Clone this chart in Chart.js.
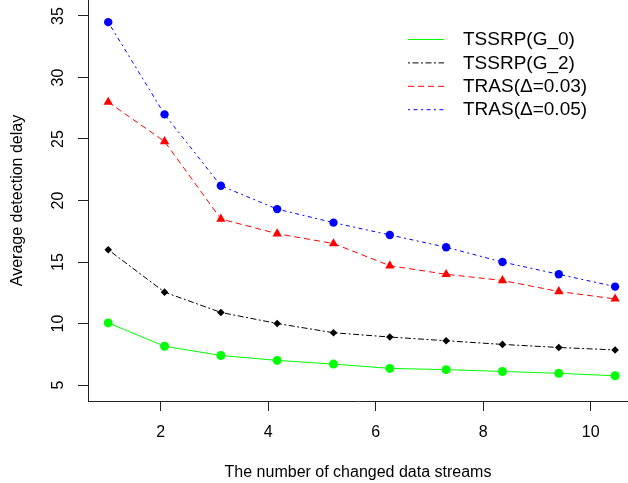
<!DOCTYPE html>
<html>
<head>
<meta charset="utf-8">
<script src="https://cdn.jsdelivr.net/npm/chart.js@4"></script>
<style>
  html, body { margin: 0; padding: 0; background: #fff; overflow: hidden; }
  #wrap { width: 628px; height: 483px; }
</style>
</head>
<body>
<div id="wrap"><canvas id="delayChart" width="628" height="483"></canvas></div>
<script>
// x: number of changed data streams
const streams = [1, 2, 3, 4, 5, 6, 7, 8, 9, 10];

// average detection delay per method
const tssrpG0 = [10.05, 8.15, 7.4, 7.0, 6.7, 6.35, 6.25, 6.1, 5.95, 5.75];
const tssrpG2 = [16.0, 12.55, 10.9, 10.0, 9.25, 8.9, 8.6, 8.3, 8.05, 7.85];
const tras003 = [28.0, 24.8, 18.5, 17.3, 16.5, 14.7, 14.0, 13.5, 12.6, 12.0];
const tras005 = [34.5, 27.0, 21.2, 19.3, 18.2, 17.2, 16.2, 15.0, 14.0, 13.0];

const seriesLabels = ["TSSRP(G_0)", "TSSRP(G_2)", "TRAS(\u0394=0.03)", "TRAS(\u0394=0.05)"];

const xTitle = "The number of changed data streams";
const yTitle = "Average detection delay";

const pts = (ys) => streams.map((x, i) => ({ x: x, y: ys[i] }));

// legend drawn inside the plot, top right, lines only (like R's legend())
const innerLegend = {
  id: "innerLegend",
  afterDraw(chart) {
    const ctx = chart.ctx;
    const x0 = 408, x1 = 444, tx = 463;
    let y = 39;
    ctx.save();
    chart.data.datasets.forEach((ds) => {
      ctx.beginPath();
      ctx.setLineDash(ds.borderDash || []);
      ctx.strokeStyle = ds.borderColor;
      ctx.lineWidth = 1;
      ctx.moveTo(x0, y + 0.5);
      ctx.lineTo(x1, y + 0.5);
      ctx.stroke();
      ctx.setLineDash([]);
      ctx.fillStyle = "#000";
      ctx.font = "19px 'Liberation Sans', Arial, sans-serif";
      ctx.textBaseline = "middle";
      ctx.textAlign = "left";
      ctx.fillText(ds.label, tx, y + 1);
      y += 23.4;
    });
    ctx.restore();
  }
};

Chart.defaults.font.family = "'Liberation Sans', Arial, sans-serif";
Chart.defaults.color = "#000";

const common = { xAxisID: "x", yAxisID: "y", borderWidth: 1, pointBorderWidth: 0 };

new Chart(document.getElementById("delayChart"), {
  type: "line",
  data: {
    datasets: [
      {
        ...common,
        label: seriesLabels[0],
        data: pts(tssrpG0),
        borderColor: "#00ff00",
        backgroundColor: "#00ff00",
        pointStyle: "circle",
        pointRadius: 4.5
      },
      {
        ...common,
        label: seriesLabels[1],
        data: pts(tssrpG2),
        borderColor: "#000000",
        backgroundColor: "#000000",
        borderDash: [2, 2.5, 6, 2.5],
        pointStyle: "rectRot",
        pointRadius: 3.8
      },
      {
        ...common,
        label: seriesLabels[2],
        data: pts(tras003),
        borderColor: "#ff0000",
        backgroundColor: "#ff0000",
        borderDash: [6, 4],
        pointStyle: "triangle",
        pointRadius: 5.4
      },
      {
        ...common,
        label: seriesLabels[3],
        data: pts(tras005),
        borderColor: "#0000ff",
        backgroundColor: "#0000ff",
        borderDash: [2, 3.5, 4, 3.5],
        pointStyle: "circle",
        pointRadius: 4.2
      }
    ]
  },
  options: {
    responsive: false,
    animation: false,
    clip: false,
    layout: { padding: 0, autoPadding: false },
    elements: { line: { tension: 0 } },
    plugins: {
      legend: { display: false },
      tooltip: { enabled: false }
    },
    scales: {
      // scale the points are placed on
      x: {
        type: "linear",
        position: "bottom",
        display: false,
        min: 0.641,
        max: 10.229
      },
      // visible axis with its own tick positions
      x2: {
        type: "linear",
        position: "bottom",
        min: 0.647,
        max: 10.694,
        grid: { drawOnChartArea: false, drawTicks: true, tickLength: 10, tickColor: "#222", tickWidth: 1 },
        border: { display: true, color: "#222", width: 1 },
        ticks: { stepSize: 2, includeBounds: false, padding: 12, font: { size: 16 }, color: "#000", maxRotation: 0 },
        title: { display: true, text: xTitle, font: { size: 16 }, color: "#000", padding: { top: 0, bottom: 1 } },
        afterFit(scale) {
          scale.height = 82;
          scale.paddingLeft = 0;
          scale.paddingRight = 0;
        }
      },
      y: {
        type: "linear",
        position: "left",
        min: 3.7,
        max: 36.3,
        grid: { drawOnChartArea: false, drawTicks: true, tickLength: 10, tickColor: "#222", tickWidth: 1 },
        border: { display: true, color: "#222", width: 1 },
        ticks: {
          stepSize: 5,
          includeBounds: false,
          minRotation: 90,
          maxRotation: 90,
          crossAlign: "center",
          padding: 11,
          font: { size: 16 },
          color: "#000"
        },
        title: { display: true, text: yTitle, font: { size: 16 }, color: "#000", padding: { top: 8, bottom: 0 } },
        afterFit(scale) {
          scale.width = 88;
          scale.paddingTop = 0;
          scale.paddingBottom = 0;
        }
      }
    }
  },
  plugins: [innerLegend]
});
</script>
</body>
</html>
